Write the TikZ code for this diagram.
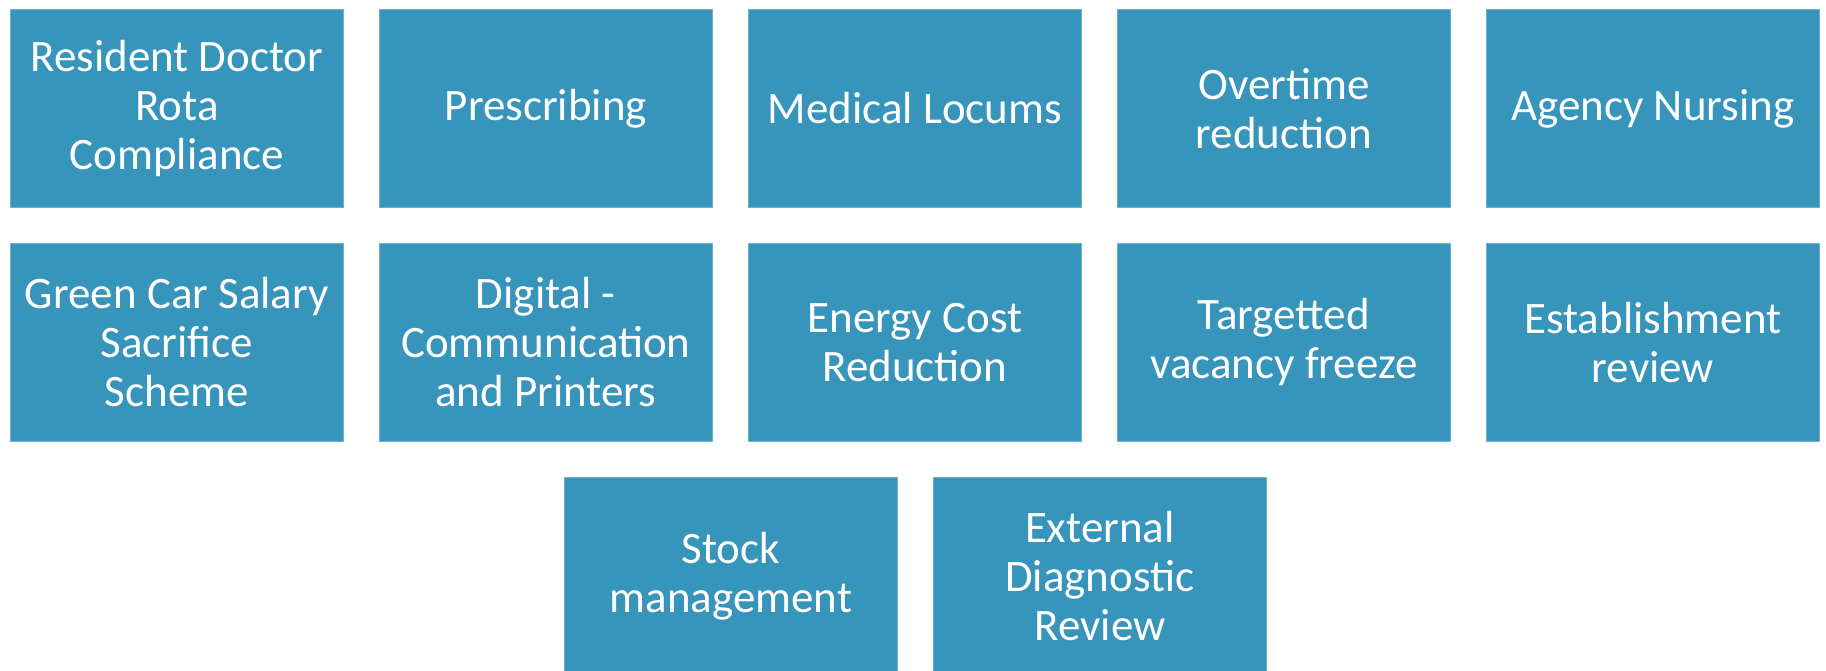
\documentclass[tikz,border=0pt]{standalone}
\usepackage{fontspec}
\setmainfont{Carlito}
\definecolor{tilefill}{HTML}{3794BA}
\definecolor{tileedge}{HTML}{6FB0CF}
\begin{document}
\begin{tikzpicture}[x=1pt,y=-1pt,
  tile/.style={anchor=north west, fill=tilefill, draw=tileedge, line width=0.8pt,
    minimum width=333pt, minimum height=198pt, inner sep=0pt,
    text=white, align=center, font=\fontsize{45}{49}\selectfont}]
\useasboundingbox (0,0) rectangle (1826,670);
\clip (0,0) rectangle (1826,670);
% first row
\node[tile] (rota)   at (10,9)   {Resident Doctor\\Rota\\Compliance};
\node[tile] (presc)  at (379,9)  {Prescribing};
\node[tile] (locum)  at (748,9)  {Medical Locums};
\node[tile] (overt)  at (1117,9) {Overtime\\reduction};
\node[tile] (agency) at (1486,9) {Agency Nursing};
% second row
\node[tile] (green)  at (10,243)   {Green Car Salary\\Sacrifice\\Scheme};
\node[tile] (digit)  at (379,243)  {Digital -\\Communication\\and Printers};
\node[tile] (energy) at (748,243)  {Energy Cost\\Reduction};
\node[tile] (vacancy) at (1117,243) {Targetted\\vacancy freeze};
\node[tile] (estab)  at (1486,243) {Establishment\\review};
% third row
\node[tile] (stock)  at (564,477)  {Stock\\management};
\node[tile] (diag)   at (933,477)  {External\\Diagnostic\\Review};
\end{tikzpicture}
\end{document}
